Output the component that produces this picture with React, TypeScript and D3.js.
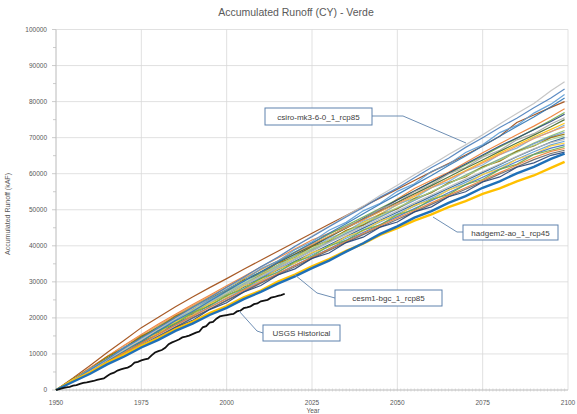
import React from "react";
import * as d3 from "d3";

const TITLE = "Accumulated Runoff (CY) - Verde";
const Y_LABEL = "Accumulated Runoff (kAF)";
const X_LABEL = "Year";
const Y_TICKS = [0, 10000, 20000, 30000, 40000, 50000, 60000, 70000, 80000, 90000, 100000];
const X_TICKS = [1950, 1975, 2000, 2025, 2050, 2075, 2100];

const PROJ_YEARS = [1950, 1955, 1960, 1965, 1970, 1975, 1980, 1985, 1990, 1995, 2000, 2005, 2010, 2015, 2020, 2025, 2030, 2035, 2040, 2045, 2050, 2055, 2060, 2065, 2070, 2075, 2080, 2085, 2090, 2095, 2099];

const S01 = [0, 2500, 5300, 8300, 11200, 14000, 17000, 19800, 22600, 25500, 28300, 31200, 34000, 36900, 39700, 42700, 45400, 48300, 51000, 54000, 56800, 59700, 62400, 65300, 68000, 70800, 73800, 76700, 79500, 83000, 85500];
const S02 = [0, 2700, 5600, 8500, 11600, 14500, 17200, 20100, 22900, 25600, 28500, 31300, 34200, 36800, 39900, 42500, 45300, 48000, 50600, 53500, 56000, 58900, 61700, 64300, 67300, 70000, 72800, 75400, 78300, 81000, 83500];
const S03 = [0, 2600, 5900, 8400, 11900, 14000, 17300, 19400, 22800, 24900, 27900, 30200, 33700, 35800, 38900, 41100, 44300, 46500, 49700, 51800, 55100, 57200, 60600, 62600, 65900, 68000, 71400, 73400, 76800, 79300, 82000];
const S04 = [0, 2600, 5400, 8100, 10800, 13500, 16400, 19200, 21800, 24600, 27400, 30100, 32700, 35400, 38200, 40800, 43500, 46100, 48900, 51600, 54200, 56900, 59500, 62300, 64900, 67700, 70400, 73100, 75700, 78600, 81000];
const S05 = [0, 3300, 6800, 10400, 13800, 17300, 20200, 23100, 25800, 28400, 30900, 33500, 36000, 38500, 41000, 43500, 46000, 48400, 50900, 53300, 55700, 58100, 60500, 62800, 65200, 67700, 70400, 74200, 76300, 78400, 80000];
const S06 = [0, 3000, 6200, 9300, 12400, 15400, 18300, 21000, 23700, 26300, 28900, 31500, 34100, 36600, 39100, 41600, 43500, 45300, 47300, 49800, 53000, 55900, 58200, 60400, 63100, 65800, 68300, 70800, 73200, 75800, 78000];
const S07 = [0, 2800, 5800, 8900, 11800, 14800, 17700, 20500, 23200, 25800, 28400, 30900, 33400, 35800, 38300, 40700, 43200, 45600, 48000, 50400, 52800, 55200, 57600, 60000, 62400, 64900, 67400, 69800, 72300, 74800, 77000];
const S08 = [0, 2500, 5200, 7900, 10600, 13300, 16000, 18700, 21400, 24100, 26700, 29400, 32000, 34600, 37200, 39800, 42400, 45000, 47600, 50100, 52700, 55200, 57700, 60200, 62700, 65200, 67700, 69900, 72200, 74500, 76500];
const S09 = [0, 3000, 5400, 8600, 11000, 14300, 16500, 19900, 22000, 25100, 27300, 30500, 32400, 35600, 37500, 40500, 42300, 45400, 47300, 50200, 52100, 55000, 57000, 59900, 61700, 64600, 66500, 69400, 71100, 73800, 75500];
const S10 = [0, 2900, 5900, 8800, 11700, 14600, 17400, 20100, 22800, 25400, 27900, 30400, 32800, 35300, 37700, 40100, 42500, 44900, 47300, 49600, 52000, 54400, 56700, 59100, 61500, 63800, 66200, 68500, 70700, 73000, 75000];
const S11 = [0, 2600, 5300, 8000, 10700, 13400, 16100, 18800, 21400, 24000, 26600, 29200, 31800, 34300, 36800, 39200, 41700, 44100, 46500, 48900, 51300, 53700, 56100, 58500, 60900, 63300, 65700, 68000, 70200, 72300, 74000];
const S12 = [0, 2500, 5900, 8200, 11600, 13700, 17000, 19000, 22200, 24100, 27400, 29300, 32400, 34300, 37300, 39100, 42100, 43900, 46900, 48600, 51500, 53200, 56100, 57800, 60700, 62400, 65300, 67100, 69900, 71600, 73500];
const S13 = [0, 3100, 6200, 9300, 12300, 15200, 18000, 20700, 23400, 26000, 28500, 31000, 33400, 35800, 38100, 40400, 42700, 45000, 47200, 49500, 51700, 54000, 56200, 58500, 60700, 63000, 65300, 67600, 69700, 71700, 73000];
const S14 = [0, 2700, 5500, 8300, 11000, 13700, 16300, 18900, 21500, 24100, 26600, 29100, 31600, 34000, 36400, 38800, 41200, 43500, 45800, 48100, 50400, 52700, 55000, 57300, 59600, 61900, 64100, 66300, 68500, 70500, 72000];
const S15 = [0, 2400, 5000, 7600, 10200, 12900, 15600, 18300, 20900, 23500, 26100, 28700, 31200, 33700, 36200, 38600, 41000, 43400, 45700, 48000, 50300, 52600, 54900, 57200, 59500, 61700, 63900, 66100, 68300, 70200, 71500];
const S16 = [0, 3200, 5900, 9300, 11700, 15000, 17200, 20500, 22500, 25600, 27500, 30500, 32200, 35200, 36900, 39800, 41400, 44300, 45800, 48700, 50300, 53100, 54700, 57500, 59100, 61900, 63500, 66200, 67700, 70000, 71000];
const S17 = [0, 2600, 5300, 8000, 10600, 13200, 15800, 18400, 21000, 23500, 26000, 28500, 30900, 33300, 35700, 38000, 40300, 42600, 44900, 47100, 49300, 51500, 53700, 55900, 58100, 60300, 62500, 64700, 66800, 68800, 70000];
const S18 = [0, 2900, 5800, 8600, 11300, 14000, 16600, 19200, 21800, 24300, 26800, 29200, 31600, 34000, 36300, 38600, 40900, 43100, 45300, 47500, 49700, 51900, 54100, 56300, 58500, 60600, 62700, 64800, 66900, 68600, 69500];
const S19 = [0, 2500, 5100, 7700, 10300, 12900, 15500, 18000, 20500, 23000, 25500, 28000, 30400, 32800, 35200, 37500, 39800, 42100, 44400, 46600, 48800, 51000, 53200, 55400, 57600, 59700, 61900, 64000, 66100, 68000, 69000];
const S20 = [0, 2900, 5200, 8400, 10500, 13700, 15700, 18900, 20800, 23900, 25800, 28800, 30500, 33500, 35200, 38100, 39700, 42600, 44100, 46900, 48400, 51200, 52700, 55500, 57000, 59800, 61300, 64000, 65400, 67700, 68500];
const S21 = [0, 2400, 4900, 7400, 9900, 12400, 14900, 17400, 19900, 22400, 24900, 27400, 29800, 32200, 34600, 36900, 39200, 41500, 43700, 45900, 48100, 50300, 52500, 54700, 56900, 59000, 61200, 63300, 65400, 67100, 68000];
const S22 = [0, 2600, 5800, 8100, 11400, 13400, 16500, 18400, 21500, 23300, 26300, 28000, 31000, 32600, 35600, 37100, 40000, 41500, 44400, 45800, 48700, 50000, 52900, 54200, 57000, 58400, 61200, 62600, 65300, 66500, 67500];
const S23 = [0, 2600, 5200, 7800, 10400, 13000, 15500, 18000, 20500, 22900, 25300, 27700, 30000, 32300, 34600, 36800, 39000, 41200, 43400, 45600, 47700, 49800, 51900, 54000, 56100, 58200, 60300, 62400, 64500, 66200, 67000];
const S24 = [0, 2500, 5000, 7500, 10000, 12500, 15000, 17500, 20000, 22400, 24800, 27200, 29600, 31900, 34200, 36500, 38700, 40900, 43100, 45200, 47300, 49400, 51500, 53600, 55700, 57800, 59900, 61900, 63900, 65600, 66500];
const S25 = [0, 2500, 4600, 7300, 9400, 12300, 14400, 17300, 19300, 22300, 24200, 27200, 29000, 31900, 33600, 36500, 38000, 40900, 42400, 45200, 46600, 49400, 50800, 53600, 55000, 57700, 59100, 61800, 63000, 65100, 66000];
const S26 = [0, 2800, 5700, 8600, 11400, 14200, 16900, 19500, 22100, 24700, 27200, 29700, 32200, 34600, 37000, 39300, 41600, 43900, 46200, 48400, 50600, 52800, 55000, 57200, 59400, 61600, 63800, 65900, 67900, 69500, 70500];
const HADGEM = [0, 2300, 4500, 7100, 9300, 11800, 13900, 16400, 18400, 20800, 22800, 25200, 27200, 29500, 31500, 33800, 35900, 38400, 40700, 43300, 45400, 47800, 49600, 51900, 53800, 56100, 57900, 60100, 61900, 64100, 65600];
const YELLOW_LOW = [0, 2600, 4900, 7600, 9800, 12300, 14400, 16900, 18900, 21300, 23300, 25700, 27600, 30100, 32000, 34300, 36300, 38600, 40600, 43000, 44900, 47000, 48700, 50700, 52400, 54400, 55900, 57900, 59500, 61600, 63300];

const THIN_SERIES = [S05, S06, S07, S08, S09, S10, S11, S12, S13, S14, S15, S16, S17, S18, S19, S20, S21, S22, S23, S24, S25, S26, S03, S04, S01, S02];
const THIN_COLORS = ["#9E480E", "#ED7D31", "#70AD47", "#264478", "#A5A5A5", "#43682B", "#FFC000", "#7CAFDD", "#F1975A", "#8CC168", "#698ED0", "#997300", "#255E91", "#B7B7B7", "#5B9BD5", "#FFCD33", "#4472C4", "#70AD47", "#ED7D31", "#636363", "#264478", "#A9D18E", "#5B9BD5", "#2E75B6", "#C0C0C0", "#4A7EBB"];

const USGS_YEARS = [1950, 1951, 1952, 1953, 1954, 1955, 1956, 1957, 1958, 1959, 1960, 1961, 1962, 1963, 1964, 1965, 1966, 1967, 1968, 1969, 1970, 1971, 1972, 1973, 1974, 1975, 1976, 1977, 1978, 1979, 1980, 1981, 1982, 1983, 1984, 1985, 1986, 1987, 1988, 1989, 1990, 1991, 1992, 1993, 1994, 1995, 1996, 1997, 1998, 1999, 2000, 2001, 2002, 2003, 2004, 2005, 2006, 2007, 2008, 2009, 2010, 2011, 2012, 2013, 2014, 2015, 2016, 2017];
const USGS = [0, 250, 500, 700, 900, 1200, 1350, 1700, 2000, 2100, 2300, 2500, 2800, 3000, 3200, 3900, 4500, 4800, 5400, 5700, 6000, 6200, 6700, 7600, 7800, 8200, 8500, 8700, 9600, 10400, 10800, 11100, 11700, 12700, 13200, 13600, 14000, 14600, 14800, 15100, 15500, 15900, 16200, 17400, 17700, 18700, 18900, 19800, 20400, 20600, 20800, 21000, 21100, 21800, 22000, 22700, 22900, 23200, 23800, 24000, 24600, 24800, 25000, 25600, 25800, 26100, 26300, 26700];

const LABEL_TEXT = ["csiro-mk3-6-0_1_rcp85", "hadgem2-ao_1_rcp45", "cesm1-bgc_1_rcp85", "USGS Historical"];

export default function App() {
  const W = 577, H = 414;
  const x = d3.scaleLinear().domain([1950, 2100]).range([56, 568]);
  const y = d3.scaleLinear().domain([0, 100000]).range([390, 29.5]);
  const line = d3.line<[number, number]>().x(d => x(d[0])).y(d => y(d[1]));
  const pts = (ys: number[], vs: number[]) => ys.map((yr, i) => [yr, vs[i]] as [number, number]);

  const minorY = d3.range(5000, 100001, 10000);
  const minorX = d3.range(1951, 2100, 1);

  const boxes = [
    { x0: 265, y0: 108, w: 107, h: 17, text: LABEL_TEXT[0], leader: [[372, 116], [403, 116], [466, 143]] },
    { x0: 463, y0: 225, w: 95, h: 15, text: LABEL_TEXT[1], leader: [[463, 232], [457, 232], [433, 217]] },
    { x0: 335, y0: 290, w: 107, h: 16, text: LABEL_TEXT[2], leader: [[335, 298], [317, 293], [295, 275]] },
    { x0: 263, y0: 325, w: 77, h: 16, text: LABEL_TEXT[3], leader: [[263, 333], [257, 331], [239, 311]] },
  ];

  return (
    <svg width={W} height={H} style={{ position: "absolute", left: 0, top: 0, background: "#fff" }} fontFamily="'Liberation Sans', Arial, sans-serif">
      <rect x={0} y={0} width={W} height={H} fill="#fff" />
      <text x={296} y={16} textAnchor="middle" fontSize={10.5} fill="#595959">{TITLE}</text>
      {Y_TICKS.map(t => (
        <line key={"gy" + t} x1={x(1950)} x2={x(2100)} y1={y(t)} y2={y(t)} stroke="#D9D9D9" strokeWidth={0.8} />
      ))}
      {X_TICKS.map(t => (
        <line key={"gx" + t} x1={x(t)} x2={x(t)} y1={y(0)} y2={y(100000)} stroke="#D9D9D9" strokeWidth={0.8} />
      ))}
      <line x1={x(1950)} x2={x(1950)} y1={y(0)} y2={y(100000)} stroke="#BFBFBF" strokeWidth={0.8} />
      <line x1={x(1950)} x2={x(2100)} y1={y(0)} y2={y(0)} stroke="#BFBFBF" strokeWidth={0.8} />
      {minorY.map(t => (
        <line key={"my" + t} x1={x(1950) - 3} x2={x(1950)} y1={y(t)} y2={y(t)} stroke="#BFBFBF" strokeWidth={0.8} />
      ))}
      {Y_TICKS.map(t => (
        <line key={"ty" + t} x1={x(1950) - 4} x2={x(1950)} y1={y(t)} y2={y(t)} stroke="#BFBFBF" strokeWidth={0.8} />
      ))}
      {minorX.map(t => (
        <line key={"mx" + t} x1={x(t)} x2={x(t)} y1={y(0) - 1.5} y2={y(0) + 1.5} stroke="#C8C8C8" strokeWidth={0.6} />
      ))}
      {Y_TICKS.map(t => (
        <text key={"ly" + t} x={47} y={y(t) + 2.3} textAnchor="end" fontSize={6.5} fill="#595959">{t}</text>
      ))}
      {X_TICKS.map(t => (
        <text key={"lx" + t} x={x(t)} y={405} textAnchor="middle" fontSize={6.5} fill="#595959">{t}</text>
      ))}
      <text transform="translate(10,214) rotate(-90)" textAnchor="middle" fontSize={7} fill="#595959">{Y_LABEL}</text>
      <text x={313} y={413} textAnchor="middle" fontSize={6.5} fill="#595959">{X_LABEL}</text>
      {THIN_SERIES.map((s, i) => (
        <path key={"s" + i} d={line(pts(PROJ_YEARS, s)) || ""} fill="none" stroke={THIN_COLORS[i]} strokeWidth={1.2} strokeOpacity={0.9} />
      ))}
      <path d={line(pts(PROJ_YEARS, YELLOW_LOW)) || ""} fill="none" stroke="#FFC000" strokeWidth={2.4} />
      <path d={line(pts(PROJ_YEARS, HADGEM)) || ""} fill="none" stroke="#1F70B8" strokeWidth={2.4} />
      <path d={line(pts(USGS_YEARS, USGS)) || ""} fill="none" stroke="#111" strokeWidth={1.8} />
      {boxes.map((b, i) => (
        <g key={"b" + i}>
          <path d={d3.line()(b.leader as [number, number][]) || ""} fill="none" stroke="#6F8FB4" strokeWidth={1} />
          <rect x={b.x0} y={b.y0} width={b.w} height={b.h} fill="#fff" stroke="#5E82AD" strokeWidth={1} />
          <text x={b.x0 + b.w / 2} y={b.y0 + b.h / 2 + 3} textAnchor="middle" fontSize={8} fill="#404040">{b.text}</text>
        </g>
      ))}
    </svg>
  );
}
